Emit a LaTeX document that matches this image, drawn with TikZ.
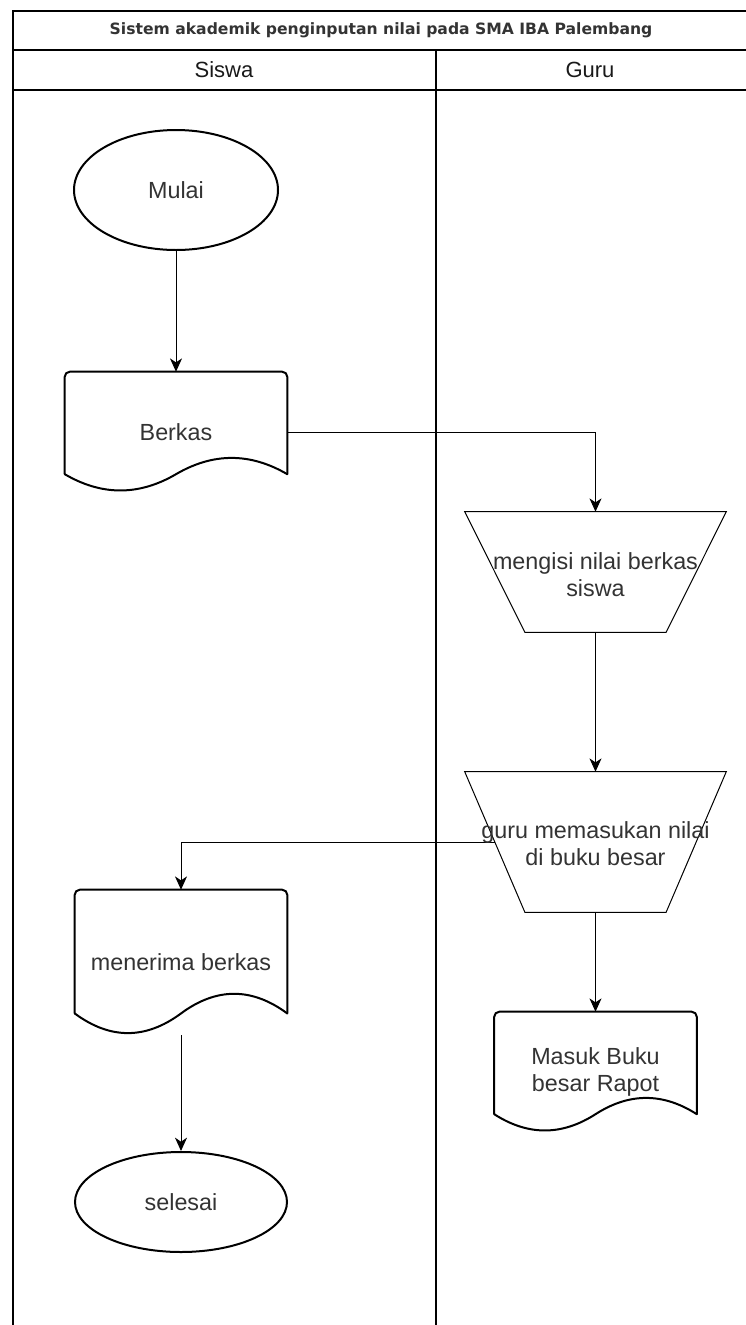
\documentclass[tikz,border=0pt]{standalone}
\usepackage{fontspec}
\setmainfont{Liberation Sans}
\newfontfamily\titlefont{DejaVu Sans}
\usetikzlibrary{shapes.geometric,arrows.meta,calc}
\definecolor{txtgray}{HTML}{333333}
\newcommand\docdraw[1]{%
  \draw[doclinestyle] let \p1=(#1.north west), \p2=(#1.south east), \n1={\y1-\y2} in
    (\x1,{\y2+0.15*\n1}) [rounded corners=3.75pt] -- (\x1,\y1) -- (\x2,\y1) -- (\x2,{\y2+0.15*\n1});
  \draw[doclinestyle] let \p1=(#1.north west), \p2=(#1.south east), \n1={\y1-\y2}, \n2={\x2-\x1} in
    (\x2,{\y2+0.15*\n1}) .. controls ({\x2-\n2/6},{\y2+0.33*\n1}) and ({\x2-\n2/3},{\y2+0.33*\n1}) .. ({\x2-\n2/2},{\y2+0.15*\n1})
    .. controls ({\x1+\n2/3},{\y2-0.03*\n1}) and ({\x1+\n2/6},{\y2-0.03*\n1}) .. (\x1,{\y2+0.15*\n1});
}
\newcommand\trapdraw[1]{%
  \draw[line width=0.75pt, line join=miter] let \p1=(#1.north west), \p2=(#1.south east), \n1={(\x2-\x1)*0.23} in
    (\x1,\y1) -- (\x2,\y1) -- ({\x2-\n1},\y2) -- ({\x1+\n1},\y2) -- cycle;
}
\begin{document}
\begin{tikzpicture}[x=0.75pt,y=-0.75pt,
  lane/.style={line width=1pt},
  outer/.style={line width=1.5pt},
  term/.style={ellipse, draw, line width=1.5pt, inner sep=0pt},
  docbox/.style={rectangle, inner sep=0pt},
  doclinestyle/.style={line width=1.5pt, line cap=round, line join=round},
  procshape/.style={rectangle, inner sep=0pt, minimum width=195.75pt},
  lbl/.style={font=\fontsize{17.5pt}{20pt}\selectfont, text=txtgray, align=center},
  head/.style={font=\fontsize{16.5pt}{19pt}\selectfont, text=black!90},
  flow/.style={line width=0.75pt, -{Stealth[length=10pt,width=9pt,inset=3pt]}},
]
\useasboundingbox (0,0) rectangle (746,1325);
% pool frame
\draw[outer] (13,1335) -- (13,11) -- (760,11);
\draw[lane] (13,50) -- (760,50);
\draw[lane] (13,90) -- (760,90);
\draw[lane] (436,50) -- (436,1335);
\node[font=\titlefont\bfseries\fontsize{11.7pt}{13pt}\selectfont, text=txtgray] (title) at (381,30) {Sistem akademik penginputan nilai pada SMA IBA Palembang};
\node[head] (siswa) at (224,70) {Siswa};
\node[head] (guru) at (590,70) {Guru};
% nodes
\node[term, minimum width=153pt, minimum height=90pt, lbl] (mulai) at (176,190) {Mulai};
\node[docbox, minimum width=166.5pt, minimum height=90pt, lbl] (berkas) at (176,432) {Berkas};
\docdraw{berkas}
\node[procshape, minimum height=90pt] (isi) at (595.5,572) {};
\trapdraw{isi}
\node[lbl] (isitxt) at (595.5,574.5) {mengisi nilai berkas\\siswa};
\node[procshape, minimum height=105pt] (masuk) at (595.5,842) {};
\trapdraw{masuk}
\coordinate (masukw) at ($(masuk.west)+(30,0)$);
\node[docbox, minimum width=159pt, minimum height=108.75pt, lbl] (terima) at (181,962.5) {menerima berkas};
\docdraw{terima}
\node[term, minimum width=159pt, minimum height=75pt, lbl] (selesai) at (181,1202) {selesai};
\node[docbox, minimum width=151.5pt, minimum height=90pt, lbl] (rapot) at (595.5,1072) {Masuk Buku\\besar Rapot};
\docdraw{rapot}
% connectors
\draw[flow] (mulai) -- (berkas);
\draw[flow] (berkas.east) -| (isi.north);
\draw[flow] (isi.south) -- (masuk.north);
\draw[flow] (masukw) -| (terima.north);
\draw[flow] (masuk.south) -- (rapot.north);
\draw[flow] (terima.south) -- (selesai.north);
\node[lbl] (masuktxt) at (595.5,843.5) {guru memasukan nilai\\di buku besar};
\end{tikzpicture}
\end{document}
